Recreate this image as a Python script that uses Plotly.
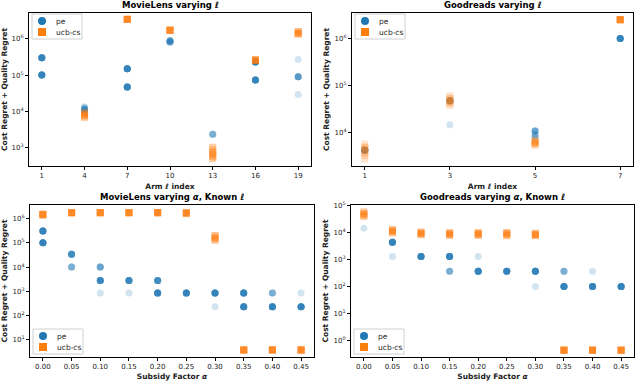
import numpy as np
import plotly.graph_objects as go
from plotly.subplots import make_subplots

BLUE = '#1f77b4'
ORANGE = '#ff7f0e'
FONT = 'DejaVu Sans'
W, H = 640, 381

# --- MovieLens varying l ---
ml_arms = ['1', '4', '7', '10', '13', '16', '19']
ml_pe_x = ['1', '1', '4', '4', '4', '7', '7', '10', '10', '13', '16', '16', '19', '19', '19']
ml_pe_y = [3.0e5, 1.0e5, 1.3e4, 1.15e4, 1.0e4, 1.5e5, 4.7e4, 9.0e5, 8.3e5, 2.3e3, 2.3e5, 7.3e4, 2.7e5, 9.0e4, 2.9e4]
ml_pe_n = [10, 10, 2, 5, 4, 10, 10, 5, 5, 4, 10, 10, 1, 6, 1]
ml_ucb_x = ['4', '4', '4', '7', '10', '13', '13', '13', '13', '13', '13', '16', '19', '19']
ml_ucb_y = [9.0e3, 7.8e3, 6.8e3, 3.5e6, 1.75e6, 1.0e3, 8.5e2, 7.2e2, 6.2e2, 5.4e2, 4.8e2, 2.6e5, 1.6e6, 1.4e6]
ml_ucb_n = [3, 5, 3, 10, 10, 2, 2, 3, 3, 2, 2, 10, 4, 6]

# --- Goodreads varying l ---
gr_arms = ['1', '3', '5', '7']
gr_pe_x = ['1', '3', '3', '5', '5', '5', '7']
gr_pe_y = [4.3e3, 4.8e4, 1.5e4, 1.1e4, 9.2e3, 8.0e3, 1.0e6]
gr_pe_n = [10, 8, 1, 5, 3, 2, 10]
gr_ucb_x = ['1'] * 6 + ['3'] * 5 + ['5'] * 4 + ['7']
gr_ucb_y = [5.8e3, 5.0e3, 4.4e3, 3.8e3, 3.3e3, 2.8e3,
            6.1e4, 5.4e4, 4.8e4, 4.3e4, 3.8e4,
            6.9e3, 6.4e3, 5.9e3, 5.4e3, 2.5e6]
gr_ucb_n = [1, 2, 3, 2, 1, 1, 1, 2, 3, 2, 1, 2, 3, 3, 1, 10]

# --- subsidy factor alpha ---
alphas = [0.00, 0.05, 0.10, 0.15, 0.20, 0.25, 0.30, 0.35, 0.40, 0.45]

mla_pe_x = [0.00, 0.00, 0.05, 0.05, 0.10, 0.10, 0.10, 0.15, 0.15, 0.20, 0.20, 0.25,
            0.30, 0.30, 0.35, 0.35, 0.40, 0.40, 0.45, 0.45]
mla_pe_y = [3.1e5, 1.0e5, 3.4e4, 1.0e4, 1.0e4, 2.8e3, 8.5e2, 2.8e3, 8.5e2, 2.8e3, 8.5e2, 8.5e2,
            8.5e2, 2.3e2, 8.5e2, 2.3e2, 8.5e2, 2.3e2, 8.5e2, 2.3e2]
mla_pe_n = [10, 10, 8, 4, 5, 9, 1, 9, 1, 8, 10, 10, 10, 1, 10, 10, 4, 10, 1, 10]
mla_ucb_x = [0.00, 0.00, 0.05, 0.10, 0.15, 0.20, 0.25, 0.25, 0.30, 0.30, 0.30, 0.35, 0.40, 0.45]
mla_ucb_y = [1.5e6, 1.4e6, 1.75e6, 1.75e6, 1.75e6, 1.75e6, 1.75e6, 1.6e6, 2.0e5, 1.6e5, 1.3e5, 3.8, 3.8, 3.8]
mla_ucb_n = [6, 4, 10, 10, 10, 10, 6, 4, 3, 4, 3, 10, 10, 10]

gra_pe_x = [0.00, 0.05, 0.05, 0.10, 0.15, 0.15, 0.20, 0.20, 0.25, 0.30, 0.30,
            0.35, 0.35, 0.40, 0.40, 0.45]
gra_pe_y = [1.45e4, 4.4e3, 1.3e3, 1.3e3, 1.3e3, 3.7e2, 1.3e3, 3.7e2, 3.7e2, 3.7e2, 1.0e2,
            3.7e2, 1.0e2, 3.7e2, 1.0e2, 1.0e2]
gra_pe_n = [1, 10, 1, 10, 10, 4, 1, 10, 10, 10, 1, 4, 10, 1, 10, 10]
gra_ucb_x = [0.00] * 4 + [0.05] * 3 + [0.10] * 3 + [0.15] * 3 + [0.20] * 3 + [0.25] * 3 + [0.30] * 3 + [0.35, 0.40, 0.45]
gra_ucb_y = [6.0e4, 5.2e4, 4.5e4, 4.0e4,
             1.3e4, 1.15e4, 1.0e4,
             1.05e4, 9.5e3, 8.5e3,
             1.0e4, 9.0e3, 8.0e3,
             1.0e4, 9.0e3, 8.0e3,
             1.0e4, 9.0e3, 7.8e3,
             9.5e3, 8.5e3, 7.8e3,
             0.43, 0.43, 0.43]
gra_ucb_n = [2, 3, 3, 2, 3, 4, 3, 3, 4, 3, 3, 4, 3, 3, 4, 3, 3, 4, 3, 3, 4, 3, 10, 10, 10]

series_names = ['pe', 'ucb-cs']
series_colors = [BLUE, ORANGE]

fig = make_subplots(rows=2, cols=2)

def runs(x, y, n):
    return np.repeat(np.array(x, dtype=object), n), np.repeat(np.array(y, dtype=float), n)

def px(x, y):
    return x / W, 1 - y / H

panels = [
    (1, 1, (ml_pe_x, ml_pe_y, ml_pe_n), (ml_ucb_x, ml_ucb_y, ml_ucb_n)),
    (1, 2, (gr_pe_x, gr_pe_y, gr_pe_n), (gr_ucb_x, gr_ucb_y, gr_ucb_n)),
    (2, 1, (mla_pe_x, mla_pe_y, mla_pe_n), (mla_ucb_x, mla_ucb_y, mla_ucb_n)),
    (2, 2, (gra_pe_x, gra_pe_y, gra_pe_n), (gra_ucb_x, gra_ucb_y, gra_ucb_n)),
]

for r, c, pe, ucb in panels:
    for name, data, color, sym in zip(series_names, [pe, ucb], series_colors, ['circle', 'square']):
        xs, ys = runs(*data)
        fig.add_trace(go.Scatter(x=xs, y=ys, mode='markers', name=name, showlegend=False,
                                 marker=dict(color=color, symbol=sym, size=7, opacity=0.2,
                                             line=dict(width=0))), row=r, col=c)

axis_common = dict(showline=True, linecolor='black', linewidth=1, mirror=True, ticks='outside',
                   ticklen=3, tickcolor='black', showgrid=False, zeroline=False, automargin=False,
                   tickfont=dict(family=FONT, size=7, color='#222'))

# plot areas in pixels: (left, right, top, bottom)
boxes = {
    (1, 1): (29, 311, 13, 166),
    (1, 2): (352, 633, 13, 166),
    (2, 1): (30, 314, 205, 357),
    (2, 2): (351, 634, 205, 357),
}
yranges = {(1, 1): [2.48, 6.72], (1, 2): [3.30, 6.54], (2, 1): [0.29, 6.56], (2, 2): [-0.62, 5.03]}
ydecades = {(1, 1): range(3, 7), (1, 2): range(4, 7), (2, 1): range(1, 7), (2, 2): range(0, 6)}
title_font = dict(family=FONT, size=7.5, color='#222')

for (r, c), (x0, x1, y0, y1) in boxes.items():
    xd = [x0 / W, x1 / W]
    yd = [1 - y1 / H, 1 - y0 / H]
    if r == 1:
        cats = ml_arms if c == 1 else gr_arms
        pad = 0.05 * (len(cats) - 1)
        fig.update_xaxes(type='category', categoryorder='array', categoryarray=cats,
                         range=[-pad, len(cats) - 1 + pad],
                         title=dict(text='<b>Arm <i>ℓ</i> index</b>', font=title_font, standoff=4),
                         row=r, col=c, domain=xd, **axis_common)
    else:
        fig.update_xaxes(range=[-0.0225, 0.4725], tickvals=alphas, ticktext=[f'{a:.2f}' for a in alphas],
                         title=dict(text='<b>Subsidy Factor <i>α</i></b>', font=title_font, standoff=4),
                         row=r, col=c, domain=xd, **axis_common)
    decs = list(ydecades[(r, c)])
    fig.update_yaxes(type='log', range=yranges[(r, c)], tickvals=[10.0 ** d for d in decs],
                     ticktext=[f'10<sup>{d}</sup>' for d in decs],
                     title=dict(text='<b>Cost Regret + Quality Regret</b>', font=title_font, standoff=3),
                     row=r, col=c, domain=yd, **axis_common)

titles = ['<b>MovieLens varying <i>ℓ</i></b>', '<b>Goodreads varying <i>ℓ</i></b>',
          '<b>MovieLens varying <i>α</i>, Known <i>ℓ</i></b>', '<b>Goodreads varying <i>α</i>, Known <i>ℓ</i></b>']
for t, (x0, x1, y0, y1) in zip(titles, boxes.values()):
    fig.add_annotation(text=t, x=(x0 + x1) / 2 / W, y=1 - y0 / H, xref='paper', yref='paper',
                       xanchor='center', yanchor='bottom', yshift=1, showarrow=False,
                       font=dict(family=FONT, size=8.5, color='black'))

# compact matplotlib-style legends (box, swatches, labels)
for (r, c), (x0, x1, y0, y1) in boxes.items():
    ly = y0 + 1 if r == 1 else y1 - 28   # top edge of legend box
    lx = x0 + 3
    bx0, by0 = px(lx, ly)
    bx1, by1 = px(lx + 50, ly + 25)
    fig.add_shape(type='rect', xref='paper', yref='paper', x0=bx0, x1=bx1, y0=by1, y1=by0,
                  line=dict(color='#d0d0d0', width=1), fillcolor='rgba(255,255,255,0.8)', layer='above')
    for i, (name, color) in enumerate(zip(series_names, series_colors)):
        cy = ly + 7 + 11 * i
        cx = lx + 10
        sx0, sy0 = px(cx - 4, cy - 4)
        sx1, sy1 = px(cx + 4, cy + 4)
        fig.add_shape(type='circle' if i == 0 else 'rect', xref='paper', yref='paper',
                      x0=sx0, x1=sx1, y0=sy1, y1=sy0, fillcolor=color, line=dict(width=0), layer='above')
        tx, ty = px(lx + 22, cy)
        fig.add_annotation(text=name, x=tx, y=ty, xref='paper', yref='paper', xanchor='left',
                           yanchor='middle', showarrow=False, font=dict(family=FONT, size=7.5, color='#222'))

fig.update_layout(width=W, height=H, margin=dict(l=0, r=0, t=0, b=0),
                  plot_bgcolor='white', paper_bgcolor='white',
                  font=dict(family=FONT, color='#222'))

fig.write_html('out.html', config={'displayModeBar': False},
               post_script="document.body.style.margin='0';")
